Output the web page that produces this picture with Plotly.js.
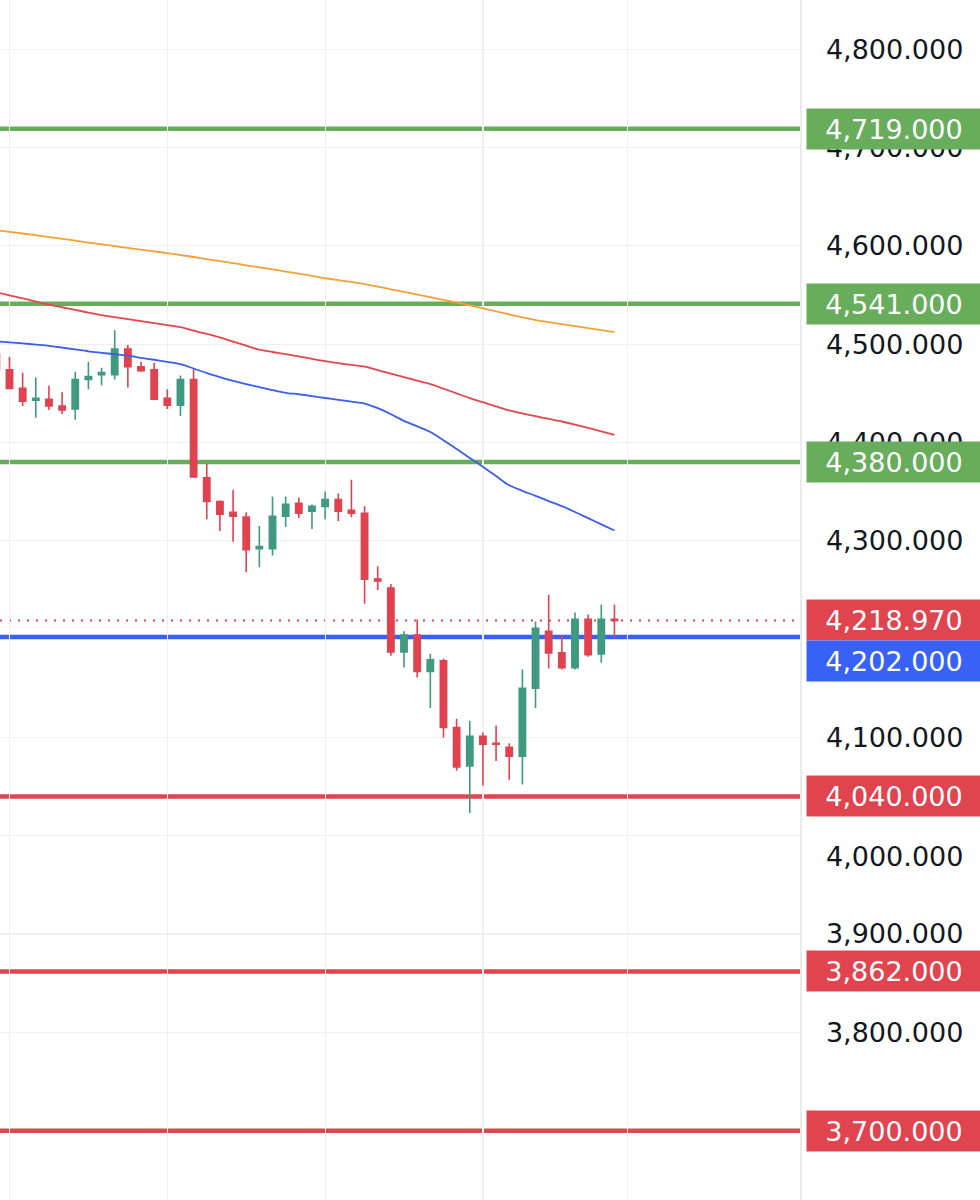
<!DOCTYPE html>
<html>
<head>
<meta charset="utf-8">
<script src="https://cdn.plot.ly/plotly-3.0.1.min.js"></script>
<style>
  html, body { margin: 0; padding: 0; background: #ffffff; }
  #chart { width: 980px; height: 1200px; }
</style>
</head>
<body>
<div id="chart"></div>
<script>
// ---- Candles (one per session, oldest first) ----
const openPrices  = [4490,4474,4455,4443,4444,4437,4434,4464,4469,4469,4495,4477,4474,4445,4438,4464,4364,4340,4329,4324,4292,4292,4325,4338,4330,4335,4342,4331,4328,4261,4252,4187,4204,4167,4178,4110,4071,4101,4094,4090,4081,4150,4208,4186,4171,4220,4185,4220];
const highPrices  = [4493,4487,4471,4466,4458,4451,4472,4482,4476,4514,4499,4482,4481,4454,4468,4475,4378,4341,4352,4329,4315,4345,4345,4344,4337,4350,4348,4362,4335,4274,4256,4208,4220,4185,4180,4119,4117,4105,4112,4094,4169,4218,4245,4204,4227,4225,4235,4235];
const lowPrices   = [4471,4455,4437,4425,4433,4429,4423,4454,4458,4464,4456,4472,4443,4434,4427,4364,4322,4310,4299,4268,4273,4285,4314,4323,4312,4322,4320,4324,4236,4250,4183,4171,4161,4130,4100,4066,4023,4051,4076,4057,4052,4130,4170,4169,4169,4182,4176,4201];
const closePrices = [4474,4455,4442,4445,4437,4433,4464,4467,4471,4495,4477,4473,4444,4438,4464,4365,4340,4327,4325,4291,4294,4325,4337,4328,4335,4342,4330,4328,4261,4259,4187,4204,4167,4179,4110,4070,4101,4093,4093,4081,4150,4211,4186,4171,4220,4184,4220,4218.97];

// ---- Moving averages (read per candle) ----
const maOrange = [4616.0,4614.2,4612.5,4610.8,4608.9,4607.1,4605.3,4603.3,4601.5,4599.7,4597.8,4596.0,4594.3,4592.6,4590.6,4588.6,4586.4,4584.4,4582.4,4580.2,4578.1,4576.0,4573.8,4571.7,4569.5,4567.0,4565.1,4563.2,4561.1,4558.5,4555.7,4553.1,4550.4,4547.7,4545.0,4542.2,4539.4,4536.3,4533.2,4530.2,4527.2,4524.4,4522.4,4520.3,4518.3,4516.3,4514.2,4512.3];
const maRed    = [4552.8,4549.6,4546.5,4543.3,4540.2,4537.5,4534.8,4532.1,4529.6,4527.4,4525.4,4523.4,4521.3,4519.3,4517.2,4513.7,4510.4,4506.8,4502.6,4498.4,4494.3,4492.0,4489.8,4487.6,4484.9,4482.6,4480.7,4478.8,4477.0,4473.6,4470.1,4466.5,4462.8,4459.3,4454.7,4449.9,4445.1,4440.9,4436.7,4432.6,4429.5,4426.7,4424.0,4421.3,4418.2,4414.7,4411.3,4407.8];
const maBlue   = [4502.9,4501.8,4500.7,4499.5,4498.3,4496.5,4494.6,4492.7,4491.2,4489.7,4488.2,4486.1,4484.1,4482.0,4479.7,4475.2,4470.6,4466.5,4462.7,4459.4,4456.3,4453.2,4450.5,4449.0,4447.1,4445.2,4443.4,4441.5,4439.6,4434.9,4428.7,4421.9,4416.3,4410.6,4402.3,4393.3,4384.3,4375.2,4365.8,4356.4,4350.8,4345.7,4340.4,4335.2,4329.3,4323.0,4316.7,4310.4];

// ---- Horizontal levels ----
const resistanceLevels = [4719, 4541, 4380];
const pivotLevel = 4202;
const supportLevels = [4040, 3862, 3700];
const lastPrice = 4218.97;

// ---- Axis ticks (3,700 and 4,200 sit under the price tags) ----
const priceTicks = [3800,3900,4000,4100,4300,4400,4500,4600,4700,4800];
const priceTickLabels = ['3,800.000','3,900.000','','4,100.000','4,300.000','4,400.000','4,500.000','4,600.000','4,700.000','4,800.000'];
const shiftedTick = {value: 4000, label: '4,000.000'};
const timeGridSessions = [1, 13, 25, 37, 48];

const GREEN_LVL = '#68ad5c';
const RED_LVL = '#e0444f';
const BLUE_LVL = '#3861f5';
const FONT = '"DejaVu Sans", "Liberation Sans", sans-serif';

const sessions = openPrices.map((_, i) => i);

const fmt = v => v.toLocaleString('en-US', {minimumFractionDigits: 3, maximumFractionDigits: 3});

const maLine = (y, color) => ({type: 'scatter', mode: 'lines', x: sessions, y: y,
  line: {color: color, width: 1.8, shape: 'spline', smoothing: 0.8}, hoverinfo: 'skip', showlegend: false});

const traces = [
  maLine(maOrange, '#f3a03a'),
  maLine(maRed, '#e0484d'),
  maLine(maBlue, '#3b5fe6'),
  {
    type: 'candlestick', x: sessions,
    open: openPrices, high: highPrices, low: lowPrices, close: closePrices,
    increasing: {line: {color: '#3f9a80', width: 1.6}, fillcolor: '#3f9a80'},
    decreasing: {line: {color: '#e0434f', width: 1.6}, fillcolor: '#e0434f'},
    whiskerwidth: 0, hoverinfo: 'none', showlegend: false
  }
];

const shapes = [];
const annotations = [];
function levelLine(v, color) {
  shapes.push({type: 'line', xref: 'paper', x0: 0, x1: 1, yref: 'y', y0: v, y1: v, layer: 'between', line: {color: color, width: 4.5}});
}
function levelLabel(v, color, yshift) {
  annotations.push({
    xref: 'paper', x: 806 / 800, xanchor: 'left', yref: 'y', y: v, yanchor: 'middle', yshift: yshift || 0,
    text: fmt(v), showarrow: false, bgcolor: color, width: 174, height: 40, borderpad: 0, align: 'center',
    font: {family: FONT, size: 27, color: '#ffffff'}
  });
}
resistanceLevels.forEach(v => levelLine(v, GREEN_LVL));
supportLevels.forEach(v => levelLine(v, RED_LVL));
levelLine(pivotLevel, BLUE_LVL);
shapes.push({type: 'line', xref: 'paper', x0: 0, x1: 1, yref: 'y', y0: lastPrice, y1: lastPrice, layer: 'between', line: {color: RED_LVL, width: 2, dash: '2px,7px'}});

// tick label pushed down by the adjacent price tag
annotations.push({
  xref: 'paper', x: 825 / 800, xanchor: 'left', yref: 'y', y: shiftedTick.value, yanchor: 'middle', yshift: -21,
  text: shiftedTick.label, showarrow: false, borderpad: 0, font: {family: FONT, size: 27, color: '#131722'}
});
resistanceLevels.forEach(v => levelLabel(v, GREEN_LVL));
levelLabel(lastPrice, RED_LVL);
levelLabel(pivotLevel, BLUE_LVL, -24);
supportLevels.forEach(v => levelLabel(v, RED_LVL));

const layout = {
  width: 980, height: 1200,
  margin: {l: 0, r: 180, t: 0, b: 0, pad: 0},
  paper_bgcolor: '#ffffff', plot_bgcolor: '#ffffff',
  showlegend: false,
  hovermode: false,
  boxgap: 0.32,
  xaxis: {
    range: [0.278, 61.11], showticklabels: false, tickvals: timeGridSessions,
    showgrid: true, gridcolor: '#f0f0f2', gridwidth: 1.2, zeroline: false, showline: false,
    rangeslider: {visible: false}, fixedrange: true
  },
  yaxis: {
    side: 'right', range: [3629.5, 4850],
    tickmode: 'array', tickvals: priceTicks, ticktext: priceTickLabels,
    ticks: '', ticklabelstandoff: 19,
    tickfont: {family: FONT, size: 27, color: '#131722'},
    showgrid: true, gridcolor: '#f0f0f2', gridwidth: 1.2, zeroline: false,
    showline: true, linecolor: '#ebebee', linewidth: 1.5, fixedrange: true
  },
  shapes: shapes,
  annotations: annotations
};

Plotly.newPlot('chart', traces, layout, {displayModeBar: false, staticPlot: true});
</script>
</body>
</html>
